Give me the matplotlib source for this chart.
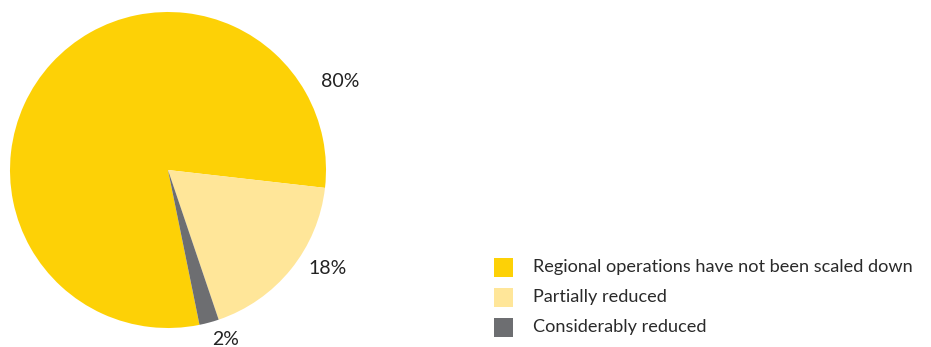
import matplotlib
matplotlib.use("Agg")
import matplotlib.pyplot as plt
from matplotlib.patches import Rectangle

plt.rcParams["font.family"] = ["Lato", "DejaVu Sans"]

categories = [
    "Regional operations have not been scaled down",
    "Partially reduced",
    "Considerably reduced",
]
shares = [80, 18, 2]
value_labels = ["80%", "18%", "2%"]
colors = ["#FDD106", "#FFE699", "#6D6E71"]

# label anchor points in pie data units (radius = 1)
label_pos = [(1.09, 0.557), (1.01, -0.625), (0.367, -1.07)]

W, H = 931, 347
fig = plt.figure(figsize=(W / 100, H / 100), dpi=100)

# pie axes: centre ~(168, 170) px, radius ~158 px
cx, cy, r = 168, 170, 158
ax = fig.add_axes([(cx - r) / W, (H - cy - r) / H, 2 * r / W, 2 * r / H])
ax.pie(shares, colors=colors, startangle=-78.5, counterclock=False,
       radius=1, wedgeprops=dict(linewidth=0))
ax.set_xlim(-1, 1)
ax.set_ylim(-1, 1)
ax.set_aspect("auto")
ax.axis("off")

for (x, y), txt in zip(label_pos, value_labels):
    ax.text(x, y, txt, ha="center", va="center", fontsize=14,
            color="#222222", clip_on=False)

# legend drawn by hand to the lower right
row_y = [267, 297, 327]
for yy, col, name in zip(row_y, colors, categories):
    fig.add_artist(Rectangle((494 / W, (H - yy - 9.5) / H), 19 / W, 19 / H,
                             transform=fig.transFigure, color=col, lw=0))
    fig.text(533 / W, (H - yy) / H, name, ha="left", va="center",
             fontsize=13.1, color="#2a2a2a")

fig.savefig("out.png", dpi=100, facecolor="white")
